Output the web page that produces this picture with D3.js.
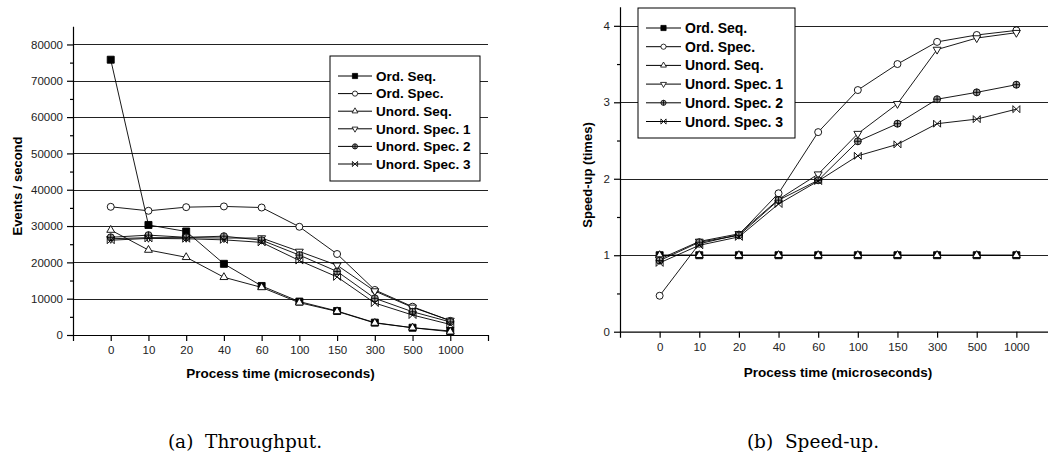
<!DOCTYPE html>
<html>
<head>
<meta charset="utf-8">
<script src="https://cdn.jsdelivr.net/npm/d3@7"></script>
<style>
  body { margin: 0; background: white; }
  #vis { width: 1048px; height: 455px; }
  svg text { font-family: Arial, "Liberation Sans", Helvetica, sans-serif; }
</style>
</head>
<body>
<div id="vis"></div>
<script>
// x categories (process time, microseconds)
var categories = ["0", "10", "20", "40", "60", "100", "150", "300", "500", "1000"];
var seriesNames = ["Ord. Seq.", "Ord. Spec.", "Unord. Seq.", "Unord. Spec. 1", "Unord. Spec. 2", "Unord. Spec. 3"];
var seriesMarkers = ["square", "circle", "triangle", "triangleDown", "circlePlus", "xbox"];

// (a) throughput, events / second
var ordSeqEvents     = [75800, 30300, 28500, 19600, 13500, 9200, 6600, 3400, 2000, 1100];
var ordSpecEvents    = [35300, 34200, 35200, 35400, 35100, 29800, 22300, 12400, 7800, 3900];
var unordSeqEvents   = [28900, 23400, 21400, 15900, 13100, 8900, 6500, 3300, 2000, 900];
var unordSpec1Events = [26500, 26800, 26800, 26700, 26700, 23000, 19200, 12100, 7600, 4000];
var unordSpec2Events = [26900, 27500, 26900, 27200, 26100, 22000, 17500, 10100, 6400, 3600];
var unordSpec3Events = [26100, 26600, 26500, 26200, 25500, 20500, 16000, 8800, 5500, 2900];
var eventTicks = [0, 10000, 20000, 30000, 40000, 50000, 60000, 70000, 80000];

// (b) speed-up, times
var ordSeqSpeedup     = [1, 1, 1, 1, 1, 1, 1, 1, 1, 1];
var ordSpecSpeedup    = [0.47, 1.15, 1.27, 1.81, 2.61, 3.16, 3.50, 3.79, 3.88, 3.94];
var unordSeqSpeedup   = [1, 1, 1, 1, 1, 1, 1, 1, 1, 1];
var unordSpec1Speedup = [0.95, 1.18, 1.28, 1.73, 2.06, 2.59, 2.98, 3.69, 3.84, 3.91];
var unordSpec2Speedup = [0.93, 1.17, 1.26, 1.72, 1.98, 2.49, 2.72, 3.04, 3.13, 3.23];
var unordSpec3Speedup = [0.90, 1.13, 1.24, 1.67, 1.97, 2.30, 2.45, 2.72, 2.78, 2.91];
var speedupTicks = [0, 1, 2, 3, 4];

var width = document.getElementById('vis').clientWidth;
var height = document.getElementById('vis').clientHeight;

var sans = 'Arial, "Liberation Sans", Helvetica, sans-serif';

var svg = d3.select('#vis')
    .append('svg')
    .attr('width', width)
    .attr('height', height);

function markerPath(type, s) {
    // s = half width of the marker
    if (type == "square") return d3.symbol(d3.symbolSquare, 4 * s * s)();
    if (type == "circle") return d3.symbol(d3.symbolCircle, Math.PI * s * s)();
    if (type == "triangle") return d3.symbol(d3.symbolTriangle, 2.2 * s * s)();
    if (type == "triangleDown") return d3.symbol(d3.symbolTriangle, 2.2 * s * s)();
    if (type == "circlePlus") return d3.symbol(d3.symbolCircle, Math.PI * s * s)() +
        `M${-s},0H${s}M0,${-s}V${s}`;
    // x with side bars
    return `M${-s},${-s}L${s},${s}M${-s},${s}L${s},${-s}M${-s},${-s}V${s}M${s},${-s}V${s}`;
}

function markerFill(type) {
    if (type == "square") return "black";
    if (type == "circlePlus") return "#999";
    if (type == "xbox") return "none";
    return "white";
}

function drawPanel(p) {
    var g = svg.append('g');

    var x_scale = d3.scalePoint()
        .domain(categories)
        .range([p.left, p.right])
        .padding(1);

    var y_scale = d3.scaleLinear()
        .domain([0, p.yMax])
        .range([p.bottom, p.top]);

    // gridlines
    g.append('g').selectAll('line')
        .data(p.ticks.slice(1))
        .enter()
        .append('line')
        .attr('x1', p.left)
        .attr('x2', p.gridRight)
        .attr('y1', d => Math.round(y_scale(d)) + 0.5)
        .attr('y2', d => Math.round(y_scale(d)) + 0.5)
        .style('stroke', '#222')
        .style('stroke-width', 1);

    // minor y ticks
    var minor = [];
    for (var i = 0; i < p.ticks.length; i++) {
        var m = p.ticks[i] + (p.ticks[1] - p.ticks[0]) / 2;
        if (m < p.yMax) minor.push(m);
    }
    g.append('g')
        .attr('transform', `translate(${p.left},0)`)
        .call(d3.axisLeft(y_scale).tickValues(minor).tickFormat('').tickSize(3).tickSizeOuter(0))
        .call(a => a.select('.domain').remove());

    var y_axis = g.append('g')
        .attr('transform', `translate(${p.left},0)`)
        .call(d3.axisLeft(y_scale).tickValues(p.ticks).tickFormat(d3.format('d'))
            .tickSize(6).tickPadding(4).tickSizeOuter(0));
    y_axis.selectAll('text').style('font-size', '11.5px').style('fill', '#222')
        .style('font-family', sans);

    var x_axis = g.append('g')
        .attr('transform', `translate(0,${p.bottom})`)
        .call(d3.axisBottom(x_scale).tickSize(6).tickSizeOuter(6).tickPadding(5));
    x_axis.selectAll('text').style('font-size', '11.5px').style('fill', '#222')
        .style('font-family', sans);

    g.selectAll('.domain, .tick line').style('stroke', 'black').style('stroke-width', 1.2);

    // axis titles
    g.append('text').text('Process time (microseconds)')
        .attr('x', (p.left + p.right) / 2).attr('y', p.xTitleY)
        .attr('text-anchor', 'middle').attr('dy', '0.35em')
        .style('font-family', sans)
        .attr('font-size', 13.5).attr('font-weight', 'bold');
    g.append('text').text(p.yTitle)
        .attr('transform', `translate(${p.yTitleX},${p.yTitleY})rotate(-90)`)
        .attr('text-anchor', 'middle').attr('dy', '0.35em')
        .style('font-family', sans)
        .attr('font-size', p.yTitleSize).attr('font-weight', 'bold');

    // series
    var line = d3.line()
        .x((d, i) => x_scale(categories[i]))
        .y(d => y_scale(d));

    p.series.forEach(function(values, k) {
        var type = seriesMarkers[k];
        g.append('path')
            .datum(values)
            .attr('d', line)
            .style('fill', 'none')
            .style('stroke', 'black')
            .style('stroke-width', 0.9);
        g.append('g').selectAll('path')
            .data(values)
            .enter()
            .append('path')
            .attr('d', markerPath(type, 3.5))
            .attr('transform', (d, i) => `translate(${x_scale(categories[i])},${y_scale(d)})` +
                (type == "triangleDown" ? 'rotate(180)' : ''))
            .style('fill', markerFill(type))
            .style('stroke', 'black')
            .style('stroke-width', 0.9);
    });

    // legend
    var lg = g.append('g');
    lg.append('rect')
        .attr('x', p.legend.x).attr('y', p.legend.y)
        .attr('width', p.legend.w).attr('height', p.legend.h)
        .style('fill', 'white').style('stroke', 'black').style('stroke-width', 1);
    seriesNames.forEach(function(name, k) {
        var yy = p.legend.y + p.legend.first + k * p.legend.step;
        var type = seriesMarkers[k];
        lg.append('line')
            .attr('x1', p.legend.x + 8).attr('x2', p.legend.x + 8 + p.legend.lineW)
            .attr('y1', yy).attr('y2', yy)
            .style('stroke', 'black').style('stroke-width', 1);
        lg.append('path')
            .attr('d', markerPath(type, 2.6))
            .attr('transform', `translate(${p.legend.x + 8 + p.legend.lineW / 2},${yy})` +
                (type == "triangleDown" ? 'rotate(180)' : ''))
            .style('fill', markerFill(type))
            .style('stroke', 'black').style('stroke-width', 0.8);
        lg.append('text').text(name)
            .attr('x', p.legend.x + 12 + p.legend.lineW).attr('y', yy)
            .attr('dy', '0.36em')
            .style('font-family', sans)
            .attr('font-size', p.legend.font).attr('font-weight', 'bold');
    });

    // caption
    svg.append('text').text(p.caption)
        .attr('x', p.captionX).attr('y', 442)
        .attr('text-anchor', 'middle').attr('dy', '0.35em')
        .style('font-family', '"DejaVu Serif", "Liberation Serif", serif')
        .style('white-space', 'pre')
        .attr('font-size', 18.5);
}

drawPanel({
    left: 73, right: 488, bottom: 335, top: 26.3, yMax: 85000, gridRight: 488,
    ticks: eventTicks,
    series: [ordSeqEvents, ordSpecEvents, unordSeqEvents, unordSpec1Events, unordSpec2Events, unordSpec3Events],
    xTitleY: 373, yTitle: 'Events / second', yTitleX: 17, yTitleY: 186, yTitleSize: 13,
    legend: { x: 330, y: 56, w: 150, h: 125, first: 20, step: 17.6, lineW: 34, font: 13.5 },
    caption: '(a)  Throughput.', captionX: 245
});

drawPanel({
    left: 620, right: 1056, bottom: 331.7, top: 6.7, yMax: 4.25, gridRight: 1048,
    ticks: speedupTicks,
    series: [ordSeqSpeedup, ordSpecSpeedup, unordSeqSpeedup, unordSpec1Speedup, unordSpec2Speedup, unordSpec3Speedup],
    xTitleY: 372, yTitle: 'Speed-up (times)', yTitleX: 587, yTitleY: 175, yTitleSize: 13,
    legend: { x: 638, y: 8, w: 157, h: 130, first: 20, step: 18.7, lineW: 35, font: 14 },
    caption: '(b)  Speed-up.', captionX: 813
});
</script>
</body>
</html>
